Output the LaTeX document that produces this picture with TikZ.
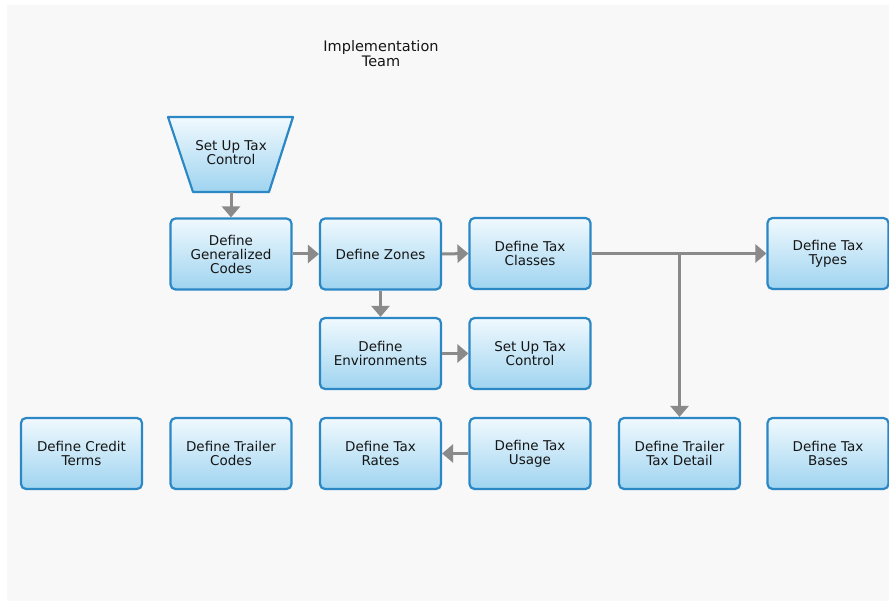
\documentclass[tikz,border=0pt]{standalone}
\usepackage{fontspec}
\setmainfont{DejaVu Sans}
\usetikzlibrary{arrows.meta}
\definecolor{bgc}{HTML}{F8F8F8}
\definecolor{boxline}{HTML}{2C87C5}
\definecolor{boxtop}{HTML}{F0F9FE}
\definecolor{boxbot}{HTML}{9FD4F0}
\definecolor{arrc}{HTML}{8A8A8A}
\definecolor{txt}{HTML}{151515}
\tikzset{
  stepbox/.style={draw=boxline, line width=2.2pt, rounded corners=5pt,
    top color=boxtop, bottom color=boxbot, minimum width=121pt, minimum height=71pt,
    align=center, inner sep=0pt, text=txt,
    font=\fontsize{13.5}{14}\selectfont},
  trapshape/.style={draw=boxline, line width=2.2pt, line join=round,
    top color=boxtop, bottom color=boxbot},
  traptext/.style={align=center, inner sep=0pt, text=txt,
    font=\fontsize{13.5}{14}\selectfont},
  flow/.style={draw=arrc, line width=3pt, -{Triangle[width=18pt,length=11pt]}},
  titletext/.style={align=center, text=txt, font=\fontsize{14.5}{15}\selectfont}
}
\begin{document}
\begin{tikzpicture}[x=1pt,y=-1pt]
\useasboundingbox (0,0) rectangle (889,601);
\fill[white] (0,0) rectangle (889,601);
\fill[bgc] (7,5) rectangle (889,601);

\node[titletext] (title) at (381,53.5) {Implementation\\Team};

\path[trapshape] (168,117) -- (293,117) -- (269,192) -- (193,192) -- cycle;
\coordinate (trapbottom) at (231,192);
\node[traptext] (setupA) at (231,153) {Set Up Tax\\Control};

\node[stepbox] (gencodes) at (231,254) {Define\\Generalized\\Codes};
\node[stepbox] (zones) at (380.5,254) {Define Zones};
\node[stepbox] (classes) at (530,253.5) {Define Tax\\Classes};
\node[stepbox] (types) at (828,253.5) {Define Tax\\Types};

\node[stepbox] (envs) at (380.5,353.5) {Define\\Environments};
\node[stepbox] (setupB) at (530,353.5) {Set Up Tax\\Control};

\node[stepbox] (credit) at (81.5,453.5) {Define Credit\\Terms};
\node[stepbox] (trailer) at (231,453.5) {Define Trailer\\Codes};
\node[stepbox] (rates) at (380.5,453.5) {Define Tax\\Rates};
\node[stepbox] (usage) at (530,453.5) {Define Tax\\Usage};
\node[stepbox] (detail) at (679.5,453.5) {Define Trailer\\Tax Detail};
\node[stepbox] (bases) at (828,453.5) {Define Tax\\Bases};

\coordinate (junction) at (classes.east -| detail.north);

\draw[flow] (trapbottom) -- (gencodes.north);
\draw[flow] (gencodes.east) -- (zones.west);
\draw[flow] (zones.east) -- (classes.west);
\draw[flow] (classes.east) -- (types.west);
\draw[flow] (junction) -- (detail.north);
\draw[flow] (zones.south) -- (envs.north);
\draw[flow] (envs.east) -- (setupB.west);
\draw[flow] (usage.west) -- (rates.east);
\end{tikzpicture}
\end{document}
